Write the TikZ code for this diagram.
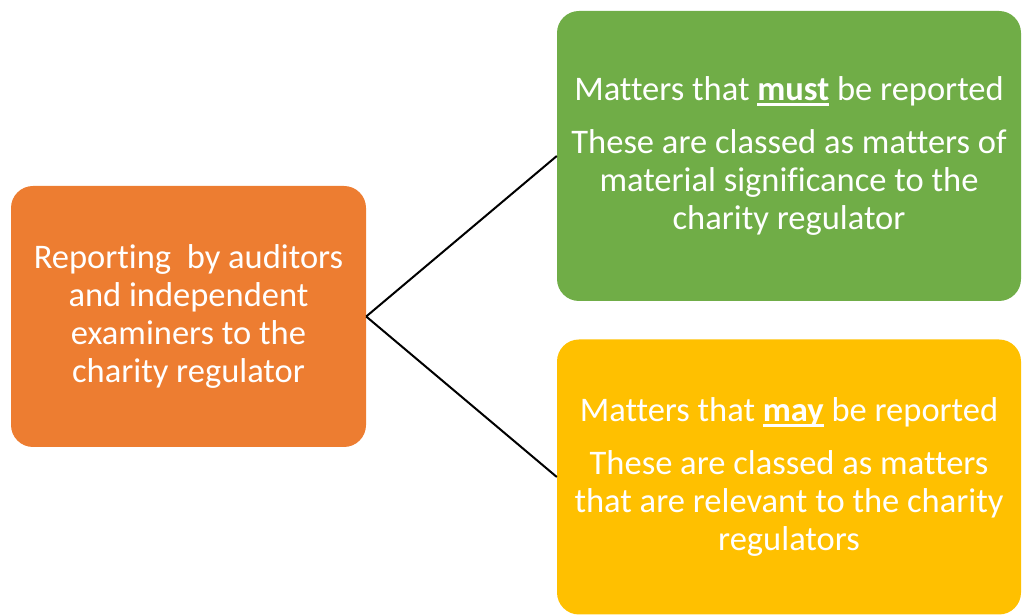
\documentclass[tikz,border=0pt]{standalone}
\usepackage{fontspec}
\setmainfont[Ligatures=NoCommon]{Carlito}
\definecolor{orangebox}{HTML}{ED7D31}
\definecolor{greenbox}{HTML}{70AD47}
\definecolor{yellowbox}{HTML}{FFC000}
\newcommand\myul[1]{\setbox0\hbox{#1}\rlap{\rule[-5pt]{\wd0}{2.4pt}}\box0\relax}
\begin{document}
\begin{tikzpicture}[x=1pt,y=1pt,
  boxstyle/.style={rounded corners=22pt, inner sep=0pt, text=white, align=center,
    font=\fontsize{34.5}{38}\selectfont},
  link/.style={draw=black, line width=2pt}]
\useasboundingbox (0,0) rectangle (1022,615);
\node[boxstyle, fill=orangebox, minimum width=355pt, minimum height=261pt] (o) at (188.5,298.5)
  {Reporting\ \ by auditors\\and independent\\examiners to the\\charity regulator};
\node[boxstyle, fill=greenbox, minimum width=464pt, minimum height=290pt] (g) at (789,459)
  {Matters that \myul{\textbf{must}} be reported\\[15pt]These are classed as matters of\\material significance to the\\charity regulator};
\node[boxstyle, fill=yellowbox, minimum width=464pt, minimum height=275pt] (y) at (789,138)
  {Matters that \myul{\textbf{may}} be reported\\[15pt]These are classed as matters\\that are relevant to the charity\\regulators};
\draw[link] (o.east) -- (g.west);
\draw[link] (o.east) -- (y.west);
\end{tikzpicture}
\end{document}
